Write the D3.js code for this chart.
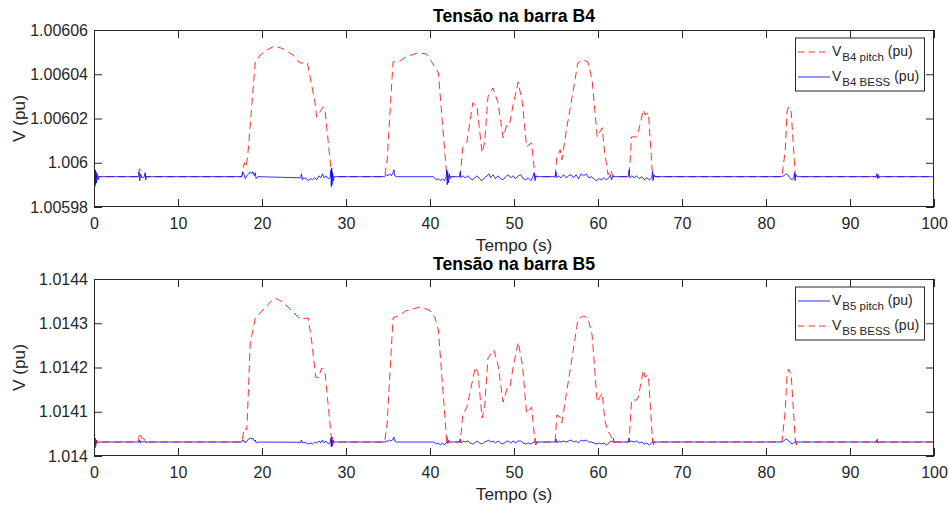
<!DOCTYPE html>
<html>
<head>
<meta charset="utf-8">
<script src="https://cdn.jsdelivr.net/npm/d3@7"></script>
<style>
html,body{margin:0;padding:0;background:#fff;}
svg{display:block;font-family:"Liberation Sans",Arial,Helvetica,sans-serif;}
</style>
</head>
<body>
<svg id="chart" width="949" height="507"></svg>
<script>
// ---------- data ----------
const xTicks = [0,10,20,30,40,50,60,70,80,90,100];
const yTicksB4 = [1.00598,1.006,1.00602,1.00604,1.00606];
const yTicksB5 = [1.014,1.0141,1.0142,1.0143,1.0144];
const titleB4 = "Tensão na barra B4";
const titleB5 = "Tensão na barra B5";

// V_B4 pitch (red dashed) [t, V]
const b4Pitch = [
[0,1.0059937],[5.3,1.0059937],[5.4,1.0059973],[5.6,1.0059965],[5.8,1.0059955],[6.0,1.005995],[6.2,1.0059937],
[17.6,1.0059937],[17.7,1.0059968],[17.9,1.0060000],[18.1,1.005998],[18.3,1.006003],[19.2,1.0060456],[19.8,1.0060487],[20.6,1.006051],[21.5,1.0060528],[22.5,1.0060515],[23.7,1.0060487],[24.5,1.0060451],[25.4,1.0060451],[26.3,1.0060275],[26.5,1.0060207],[26.9,1.006023],[27.3,1.0060253],[27.5,1.0060239],[28.3,1.0059937],
[34.6,1.0059937],[34.9,1.0060013],[35.6,1.0060456],[36.4,1.006046],[37.1,1.0060478],[38.5,1.0060496],[39.6,1.0060492],[40.2,1.0060456],[41.0,1.0060406],[42.0,1.0059937],
[43.6,1.0059937],[43.9,1.0060068],[44.4,1.0060095],[45.1,1.0060271],[45.6,1.0060253],[46.2,1.0060045],[46.5,1.006009],[46.9,1.0060298],[47.5,1.0060338],[48.1,1.0060271],[48.7,1.0060113],[49.2,1.006018],[49.5,1.006018],[49.9,1.0060262],[50.5,1.0060365],[51.0,1.0060271],[51.5,1.0060072],[52.1,1.006009],[52.5,1.0059937],
[54.9,1.0059937],[55.1,1.0060027],[55.5,1.0060059],[55.7,1.0060013],[56.3,1.0060162],[57.0,1.0060316],[57.6,1.0060451],[58.2,1.0060465],[58.8,1.0060456],[59.3,1.0060374],[59.9,1.0060117],[60.5,1.0060158],[60.8,1.0060045],[61.2,1.0059946],[61.5,1.0059968],[61.8,1.0059937],
[63.7,1.0059937],[64.0,1.0060117],[64.6,1.0060117],[64.8,1.006014],[65.4,1.0060239],[65.6,1.0060217],[66.0,1.0060226],[66.5,1.0059937],
[81.9,1.0059937],[82.3,1.0060059],[82.5,1.006023],[82.7,1.0060253],[83.0,1.006023],[83.5,1.0059937],
[100,1.0059937]
];

// V_B4 BESS (blue solid)
const b4Bess = [
[0,1.0059937],[0.05,1.0059977],[0.1,1.0059892],[0.15,1.0059968],[0.2,1.0059901],[0.25,1.0059959],[0.3,1.005991],[0.4,1.005995],[0.5,1.0059923],[0.6,1.0059937],
[5.3,1.0059937],[5.35,1.0059959],[5.45,1.0059919],[5.55,1.005995],[5.7,1.0059932],[6.0,1.0059937],[6.1,1.0059955],[6.15,1.0059923],[6.25,1.0059937],
[17.6,1.0059937],[17.7,1.0059959],[17.85,1.005995],[18.0,1.0059928],[18.2,1.0059941],[18.4,1.005995],[18.6,1.0059959],[18.8,1.005995],[18.9,1.0059959],[19.1,1.0059941],[19.2,1.0059955],[19.3,1.0059928],[19.5,1.0059937],
[24.6,1.0059932],[24.7,1.005995],[24.8,1.0059923],[24.9,1.0059932],[25.3,1.0059928],[25.5,1.0059919],[25.8,1.0059928],[26.0,1.0059923],[26.3,1.0059932],[26.5,1.0059923],[26.8,1.0059941],[27.0,1.0059932],[27.2,1.005995],[27.4,1.0059932],[27.6,1.0059941],[27.9,1.0059928],[28.1,1.0059932],[28.2,1.0059968],[28.25,1.0059892],[28.3,1.0059977],[28.35,1.0059901],[28.4,1.0059955],[28.5,1.0059919],[28.6,1.0059937],
[34.6,1.0059937],[34.8,1.0059946],[35.0,1.0059941],[35.2,1.005995],[35.4,1.0059941],[35.6,1.0059955],[35.7,1.0059968],[35.8,1.0059941],[36.0,1.0059937],
[40.4,1.0059937],[40.6,1.0059928],[40.8,1.0059923],[41.0,1.0059928],[41.2,1.0059919],[41.5,1.0059928],[41.7,1.0059919],[41.9,1.0059932],[42.0,1.0059968],[42.05,1.0059901],[42.1,1.0059959],[42.2,1.005991],[42.3,1.005995],[42.4,1.0059928],[42.6,1.0059937],
[43.5,1.0059937],[43.6,1.0059959],[43.7,1.0059932],[43.9,1.0059941],[44.2,1.0059932],[44.5,1.0059941],[44.8,1.0059928],[45.1,1.0059923],[45.3,1.0059932],[45.6,1.0059941],[45.9,1.0059928],[46.2,1.0059919],[46.5,1.0059932],[46.8,1.0059941],[47.0,1.005995],[47.2,1.0059932],[47.5,1.0059946],[47.8,1.0059928],[48.1,1.0059941],[48.4,1.0059928],[48.7,1.0059923],[49.0,1.0059937],[49.3,1.0059946],[49.6,1.0059932],[49.9,1.0059941],[50.2,1.0059928],[50.5,1.0059941],[50.8,1.0059946],[51.1,1.0059928],[51.4,1.0059923],[51.7,1.0059932],[52.0,1.0059919],[52.2,1.0059932],[52.4,1.0059955],[52.5,1.0059919],[52.6,1.0059941],[52.8,1.0059937],
[54.9,1.0059937],[55.0,1.0059959],[55.1,1.0059932],[55.3,1.0059941],[55.6,1.0059932],[55.9,1.0059946],[56.2,1.0059932],[56.5,1.0059941],[56.8,1.0059946],[57.1,1.0059932],[57.4,1.0059946],[57.7,1.0059928],[58.0,1.005995],[58.3,1.0059941],[58.6,1.005995],[58.9,1.0059932],[59.2,1.0059937],[59.5,1.0059928],[59.8,1.0059919],[60.1,1.0059928],[60.4,1.0059923],[60.7,1.0059932],[61.0,1.0059923],[61.3,1.0059932],[61.5,1.0059946],[61.6,1.0059923],[61.8,1.0059941],[62.0,1.0059937],
[63.6,1.0059937],[63.7,1.0059968],[63.8,1.0059932],[64.0,1.0059941],[64.3,1.0059932],[64.6,1.0059941],[64.9,1.0059928],[65.2,1.0059937],[65.5,1.0059923],[65.8,1.0059932],[66.1,1.0059923],[66.4,1.0059932],[66.5,1.0059959],[66.55,1.0059919],[66.65,1.0059946],[66.8,1.0059937],
[81.8,1.0059937],[82.1,1.0059941],[82.4,1.005995],[82.6,1.0059946],[82.8,1.0059932],[83.1,1.0059923],[83.3,1.0059932],[83.4,1.0059955],[83.45,1.0059919],[83.55,1.0059946],[83.7,1.0059937],
[93.1,1.0059937],[93.2,1.005995],[93.3,1.0059928],[93.35,1.0059946],[93.45,1.0059932],[93.6,1.0059937],
[100,1.0059937]
];

// V_B5 pitch (blue solid)
const b5Pitch = [
[0,1.0140316],[0.05,1.0140429],[0.1,1.0140181],[0.15,1.0140406],[0.2,1.0140226],[0.3,1.0140361],[0.4,1.0140294],[0.5,1.0140316],
[5.3,1.0140316],[5.4,1.0140361],[5.5,1.0140294],[5.6,1.0140339],[5.8,1.0140316],[6.1,1.0140339],[6.2,1.0140294],[6.3,1.0140316],
[17.6,1.0140316],[17.7,1.0140361],[17.9,1.0140339],[18.0,1.0140294],[18.2,1.0140339],[18.4,1.0140384],[18.6,1.0140406],[18.8,1.0140384],[18.9,1.0140406],[19.1,1.0140339],[19.2,1.0140361],[19.3,1.0140294],[19.5,1.0140316],
[24.6,1.014031],[24.7,1.0140361],[24.8,1.0140294],[24.9,1.014031],[25.3,1.0140294],[25.5,1.0140271],[25.8,1.0140294],[26.0,1.0140271],[26.3,1.0140316],[26.5,1.0140294],[26.8,1.0140339],[27.0,1.0140294],[27.2,1.0140361],[27.4,1.0140294],[27.6,1.0140339],[27.9,1.0140271],[28.1,1.0140294],[28.2,1.0140406],[28.25,1.0140204],[28.3,1.0140429],[28.35,1.0140226],[28.4,1.0140361],[28.5,1.0140294],[28.6,1.0140316],
[34.6,1.0140316],[34.8,1.0140339],[35.0,1.014033],[35.2,1.0140361],[35.4,1.0140339],[35.6,1.0140384],[35.7,1.0140429],[35.8,1.0140339],[36.0,1.0140316],
[40.4,1.0140316],[40.6,1.0140294],[40.8,1.0140271],[41.0,1.0140294],[41.2,1.0140249],[41.5,1.0140294],[41.7,1.0140249],[41.9,1.0140294],[42.0,1.0140316],
[43.5,1.0140316],[43.6,1.0140384],[43.7,1.0140294],[43.9,1.0140339],[44.2,1.0140316],[44.5,1.0140339],[44.8,1.0140294],[45.1,1.0140271],[45.3,1.0140294],[45.6,1.0140339],[45.9,1.0140294],[46.2,1.0140271],[46.5,1.0140316],[46.8,1.0140339],[47.0,1.0140361],[47.2,1.0140316],[47.5,1.0140339],[47.8,1.0140294],[48.1,1.0140339],[48.4,1.0140294],[48.7,1.0140271],[49.0,1.0140316],[49.3,1.0140339],[49.6,1.0140294],[49.9,1.0140339],[50.2,1.0140294],[50.5,1.0140339],[50.8,1.0140339],[51.1,1.0140294],[51.4,1.0140271],[51.7,1.0140294],[52.0,1.0140271],[52.2,1.0140294],[52.5,1.0140316],
[54.9,1.0140316],[55.0,1.0140384],[55.1,1.0140294],[55.3,1.0140339],[55.6,1.0140316],[55.9,1.0140339],[56.2,1.0140316],[56.5,1.0140339],[56.8,1.0140361],[57.1,1.0140316],[57.4,1.0140339],[57.7,1.0140294],[58.0,1.0140361],[58.3,1.0140339],[58.6,1.0140361],[58.9,1.0140316],[59.2,1.0140316],[59.5,1.0140294],[59.8,1.0140271],[60.1,1.0140294],[60.4,1.0140271],[60.7,1.0140294],[61.0,1.0140249],[61.3,1.0140294],[61.5,1.0140339],[61.8,1.0140316],
[63.6,1.0140316],[63.7,1.0140406],[63.8,1.0140316],[64.0,1.0140339],[64.3,1.0140316],[64.6,1.0140339],[64.9,1.0140294],[65.2,1.0140316],[65.5,1.0140271],[65.8,1.0140294],[66.1,1.0140249],[66.4,1.0140294],[66.5,1.0140316],
[81.8,1.0140316],[82.1,1.0140339],[82.4,1.0140384],[82.6,1.0140361],[82.8,1.0140316],[83.1,1.0140271],[83.3,1.0140294],[83.5,1.0140316],
[93.1,1.0140316],[93.2,1.0140361],[93.3,1.0140294],[93.4,1.0140316],
[100,1.0140316]
];

// V_B5 BESS (red dashed)
const b5Bess = [
[0,1.0140316],[0.05,1.0140429],[0.1,1.0140181],[0.15,1.0140406],[0.2,1.0140226],[0.3,1.0140361],[0.4,1.0140294],[0.5,1.0140316],
[5.3,1.0140316],[5.4,1.014052],[5.7,1.0140407],[6.0,1.014038],[6.2,1.0140316],
[17.6,1.0140316],[17.9,1.0140633],[18.2,1.0140587],[18.6,1.0142554],[19.2,1.0143119],[19.9,1.0143254],[20.7,1.014342],[21.5,1.0143571],[22.5,1.014348],[23.7,1.0143254],[24.5,1.0143096],[25.5,1.0143119],[25.9,1.0142621],[26.4,1.0141785],[26.7,1.0141763],[27.1,1.0141989],[27.5,1.0141898],[28.3,1.0140316],[28.35,1.0140429],[28.4,1.0140226],[28.5,1.0140361],[28.6,1.0140316],
[34.6,1.0140316],[34.9,1.0140746],[35.6,1.0143119],[36.4,1.0143186],[37.1,1.0143277],[38.8,1.0143367],[39.9,1.0143299],[40.6,1.0143119],[41.0,1.0142847],[42.0,1.0140316],[42.05,1.0140429],[42.1,1.0140226],[42.2,1.0140361],[42.3,1.0140316],
[43.6,1.0140316],[43.9,1.0140926],[44.4,1.0141107],[45.4,1.0142011],[45.7,1.0141898],[46.2,1.0140859],[46.5,1.0141085],[46.9,1.0142215],[47.6,1.0142395],[48.1,1.0142056],[48.7,1.014122],[49.2,1.0141537],[49.5,1.0141537],[49.9,1.0142011],[50.5,1.0142576],[51.0,1.0142056],[51.5,1.0140972],[52.1,1.0141107],[52.5,1.0140316],[52.55,1.0140406],[52.6,1.0140249],[52.7,1.0140316],
[54.9,1.0140316],[55.1,1.0140926],[55.5,1.0140881],[55.7,1.0140746],[56.3,1.0141491],[57.0,1.0142328],[57.6,1.0143073],[58.2,1.0143164],[58.8,1.0143119],[59.3,1.0142734],[59.9,1.014122],[60.5,1.0141424],[60.8,1.0140813],[61.2,1.0140542],[61.5,1.0140474],[61.8,1.0140316],[61.85,1.0140406],[61.9,1.0140249],[62.0,1.0140316],
[63.7,1.0140316],[64.0,1.0141265],[64.6,1.0141265],[64.8,1.0141333],[65.4,1.0141943],[65.6,1.0141785],[66.0,1.014183],[66.5,1.0140316],[66.55,1.0140406],[66.6,1.0140249],[66.7,1.0140316],
[81.9,1.0140316],[82.3,1.0141039],[82.5,1.014183],[82.7,1.0141966],[83.0,1.014183],[83.5,1.0140316],[83.55,1.0140406],[83.6,1.0140249],[83.7,1.0140316],
[93.2,1.0140316],[93.25,1.0140384],[93.3,1.0140271],[93.4,1.0140316],
[100,1.0140316]
];

// ---------- drawing ----------
const svg = d3.select("#chart");
const AX = "#262626";
const RED = "#ff0000", BLUE = "#0000ff";
const DASH = "7.5,4.5";

function panel(opt){
  const x = d3.scaleLinear().domain([0,100]).range([94,934]);
  const y = d3.scaleLinear().domain(opt.yDomain).range([opt.bottom, opt.top]);
  const g = svg.append("g");
  const clipId = "clip" + opt.id;
  g.append("clipPath").attr("id", clipId).append("rect")
    .attr("x", 94).attr("y", opt.top - 2).attr("width", 840).attr("height", opt.bottom - opt.top + 4);

  const line = d3.line().x(d => x(d[0])).y(d => y(d[1]));
  const lines = g.append("g").attr("clip-path", `url(#${clipId})`);
  opt.series.forEach(s => {
    lines.append("path").datum(s.data)
      .attr("fill","none").attr("stroke", s.color).attr("stroke-width", 0.9)
      .attr("stroke-opacity", 0.9)
      .attr("stroke-dasharray", s.dash ? DASH : null)
      .attr("d", line);
  });

  // axes
  const styleAxis = sel => {
    sel.select(".domain").remove();
    sel.selectAll(".tick line").attr("stroke", AX);
    sel.selectAll(".tick text").attr("fill", AX).attr("font-size", 16)
      .attr("font-family", '"Liberation Sans",Arial,sans-serif');
  };
  g.append("g").attr("transform", `translate(0,${opt.bottom})`)
    .call(d3.axisBottom(x).tickValues(xTicks).tickSize(-8).tickPadding(11).tickFormat(d3.format("d")))
    .call(styleAxis);
  g.append("g").attr("transform", `translate(0,${opt.top})`)
    .call(d3.axisTop(x).tickValues(xTicks).tickSize(-8).tickFormat(""))
    .call(styleAxis);
  g.append("g").attr("transform", `translate(94,0)`)
    .call(d3.axisLeft(y).tickValues(opt.yTicks).tickSize(-8).tickPadding(6).tickFormat(d3.format("~g")))
    .call(styleAxis);
  g.append("g").attr("transform", `translate(934,0)`)
    .call(d3.axisRight(y).tickValues(opt.yTicks).tickSize(-8).tickFormat(""))
    .call(styleAxis);
  g.append("rect").attr("x", 94.5).attr("y", opt.top + 0.5).attr("width", 839).attr("height", opt.bottom - opt.top - 1)
    .attr("fill","none").attr("stroke", AX).attr("stroke-width", 1);

  // title + labels
  g.append("text").attr("x", 514).attr("y", opt.titleY).attr("text-anchor","middle")
    .attr("font-weight","bold").attr("font-size", 17.6).attr("fill","#000").text(opt.title);
  g.append("text").attr("x", 514).attr("y", opt.bottom + 44).attr("text-anchor","middle")
    .attr("font-size", 17.2).attr("fill", AX).text("Tempo (s)");
  g.append("text").attr("transform", `translate(25,${(opt.top+opt.bottom)/2}) rotate(-90)`)
    .attr("text-anchor","middle").attr("font-size", 17.2).attr("fill", AX).text("V (pu)");

  // legend
  const lg = g.append("g").attr("transform", `translate(795,${opt.legendY})`);
  lg.append("rect").attr("x",0.5).attr("y",0.5).attr("width",129).attr("height",53)
    .attr("fill","#fff").attr("stroke", AX).attr("stroke-width",1);
  opt.series.forEach((s,i) => {
    const cy = 14.5 + i*25;
    lg.append("line").attr("x1",3).attr("x2",35).attr("y1",cy).attr("y2",cy)
      .attr("stroke", s.color).attr("stroke-width",0.9).attr("stroke-opacity",0.9)
      .attr("stroke-dasharray", s.dash ? "6.5,4" : null);
    const t = lg.append("text").attr("x",37).attr("y",cy+3.5).attr("font-size",14).attr("fill",AX);
    t.append("tspan").text("V");
    t.append("tspan").attr("font-size",11.5).attr("dy",5).attr("dx",1).text(s.sub);
    t.append("tspan").attr("dy",-5).text(" (pu)");
  });
}

panel({
  id: "b4", top: 30, bottom: 207, yDomain: [1.00598, 1.00606], yTicks: yTicksB4,
  title: titleB4, titleY: 22, legendY: 37.5,
  series: [
    {data: b4Pitch, color: RED, dash: true, sub: "B4 pitch"},
    {data: b4Bess, color: BLUE, dash: false, sub: "B4 BESS"}
  ]
});
panel({
  id: "b5", top: 279, bottom: 456, yDomain: [1.014, 1.0144], yTicks: yTicksB5,
  title: titleB5, titleY: 270, legendY: 286.5,
  series: [
    {data: b5Pitch, color: BLUE, dash: false, sub: "B5 pitch"},
    {data: b5Bess, color: RED, dash: true, sub: "B5 BESS"}
  ]
});
</script>
</body>
</html>
